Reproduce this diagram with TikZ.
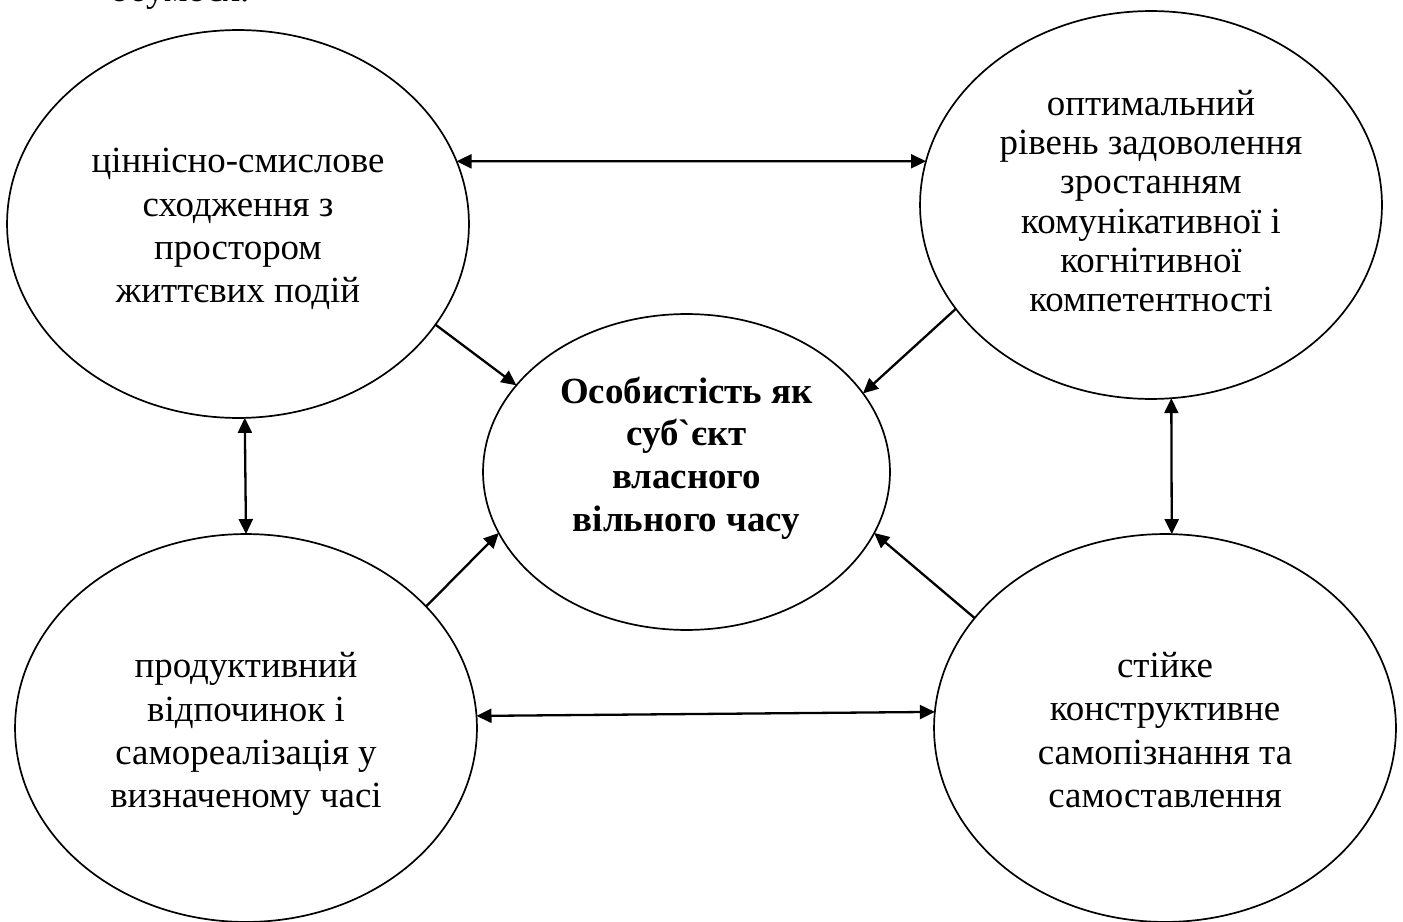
\documentclass[tikz,border=0pt]{standalone}
\usepackage{fontspec}
\newfontfamily\tnr{Liberation Serif}
\usetikzlibrary{arrows.meta,shapes.geometric}
\begin{document}
\begin{tikzpicture}[x=0.02cm,y=-0.02cm,
  bubble/.style={draw, ellipse, line width=0.034cm, minimum width=9.24cm, minimum height=7.76cm,
    inner sep=0pt, outer sep=0pt},
  core/.style={bubble, minimum width=8.14cm, minimum height=6.32cm},
  label/.style={align=center, inner sep=0pt, font=\tnr\fontsize{21}{24.6}\selectfont},
  link/.style={line width=0.046cm, -{Triangle[length=0.3cm,width=0.28cm]}},
  dlink/.style={line width=0.046cm, {Triangle[length=0.3cm,width=0.28cm]}-{Triangle[length=0.3cm,width=0.28cm]}}]
\useasboundingbox (0,0) rectangle (1403,922);
\begin{scope}
\clip (0,0) rectangle (1403,922);
\node[anchor=base west, inner sep=0pt, font=\tnr\fontsize{21}{24.6}\selectfont] (cut) at (110,2) {обумося.};

\node[bubble] (TL) at (238,224) {};
\node[bubble] (TR) at (1151,205) {};
\node[bubble] (BL) at (246,728) {};
\node[bubble] (BR) at (1165,728) {};
\node[core] (C) at (686.5,472) {};

\node[label] (TLt) at (238,229) {ціннісно-смислове\\сходження з\\простором\\життєвих подій};
\node[label, font=\tnr\fontsize{21}{22.3}\selectfont] (TRt) at (1151,201) {оптимальний\\рівень задоволення\\зростанням\\комунікативної і\\когнітивної\\компетентності};
\node[label] (BLt) at (246,734) {продуктивний\\відпочинок і\\самореалізація у\\визначеному часі};
\node[label] (BRt) at (1165,730) {стійке\\конструктивне\\самопізнання та\\самоставлення};
\node[label, font=\tnr\bfseries\fontsize{21}{24.3}\selectfont] (Ct) at (686.5,458) {Особистість як\\суб`єкт\\власного\\вільного часу};

\draw[dlink] (TL.16.1) -- (TR.169.45);
\draw[dlink] (TL.-88.5) -- (BL.90.9);
\draw[dlink] (TR.-84.4) -- (BR.88.5);
\draw[dlink] (BL.3.2) -- (BR.176.8);

\draw[link] (TL.-27) -- (C.153.1);
\draw[link] (TR.208) -- (C.24.4);
\draw[link] (BL.34.5) -- (C.198.3);
\draw[link] (BR.150.9) -- (C.-18.3);
\end{scope}
\end{tikzpicture}
\end{document}
